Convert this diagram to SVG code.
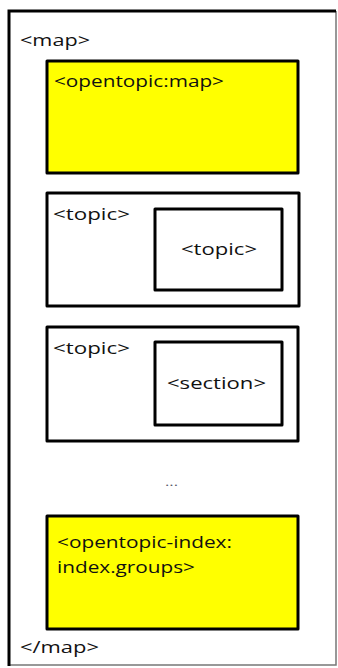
<svg xmlns="http://www.w3.org/2000/svg" width="338" height="668" viewBox="0 0 338 668">
<style>
.box{fill:#fff;stroke:#000;stroke-width:3;stroke-linejoin:round}
.yel{fill:#ffff00;stroke:#000;stroke-width:3;stroke-linejoin:round}
.t{font-family:"Open Sans","Liberation Sans",sans-serif;font-size:17px;fill:#111}
.dots{font-family:"Open Sans","Liberation Sans",sans-serif;font-size:11px;fill:#556}
</style>
<rect width="338" height="668" fill="#fff"/>
<g id="map">
<path d="M336,11 L336,665 L9,665" fill="none" stroke="#777" stroke-width="1.5"/>
<path d="M9,666 L9,11 L336,11" fill="none" stroke="#000" stroke-width="3"/>
<text class="t" x="20" y="46" textLength="70" lengthAdjust="spacingAndGlyphs">&lt;map&gt;</text>
<text class="t" x="20" y="653" textLength="79" lengthAdjust="spacingAndGlyphs">&lt;/map&gt;</text>
</g>
<g id="opentopic-map">
<rect class="yel" x="47" y="61" width="251" height="112"/>
<text class="t" x="54" y="87" textLength="170" lengthAdjust="spacingAndGlyphs">&lt;opentopic:map&gt;</text>
</g>
<g id="topic1">
<rect class="box" x="47" y="193" width="252" height="113"/>
<text class="t" x="53" y="220" textLength="77" lengthAdjust="spacingAndGlyphs">&lt;topic&gt;</text>
</g>
<g id="topic1-inner">
<rect class="box" x="155" y="209" width="127" height="81"/>
<text class="t" x="181" y="255" textLength="76" lengthAdjust="spacingAndGlyphs">&lt;topic&gt;</text>
</g>
<g id="topic2">
<rect class="box" x="47" y="327" width="251" height="114"/>
<text class="t" x="53" y="354" textLength="77" lengthAdjust="spacingAndGlyphs">&lt;topic&gt;</text>
</g>
<g id="section">
<rect class="box" x="155" y="342" width="127" height="83"/>
<text class="t" x="167" y="389" textLength="99" lengthAdjust="spacingAndGlyphs">&lt;section&gt;</text>
</g>
<g id="ellipsis">
<text class="dots" x="165" y="486" textLength="13" lengthAdjust="spacingAndGlyphs">...</text>
</g>
<g id="opentopic-index">
<rect class="yel" x="47" y="516" width="251" height="113"/>
<text class="t" x="57" y="548" textLength="175" lengthAdjust="spacingAndGlyphs">&lt;opentopic-index:</text>
<text class="t" x="57" y="573" textLength="138" lengthAdjust="spacingAndGlyphs">index.groups&gt;</text>
</g>
<g id="connectors"></g>
</svg>
